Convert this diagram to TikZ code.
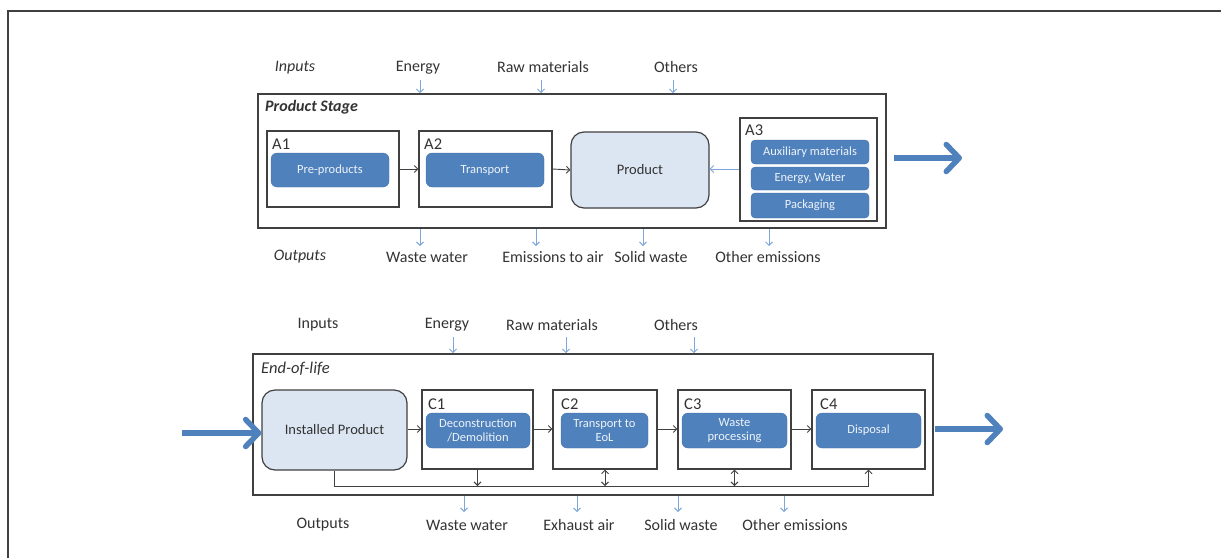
\documentclass[tikz,border=0pt]{standalone}
\usepackage{fontspec}
\setmainfont{Carlito}
\usetikzlibrary{arrows.meta,calc}
\definecolor{boxblue}{HTML}{4F81BD}
\definecolor{lightfill}{HTML}{DCE6F2}
\definecolor{arrowblue}{HTML}{7EA6DC}
\definecolor{txt}{HTML}{333333}
\definecolor{frame}{HTML}{404040}
\begin{document}
\begin{tikzpicture}[x=1pt,y=-1pt,
  lbl/.style={text=txt,font=\fontsize{16}{19}\selectfont,inner sep=0pt,yshift=-2pt},
  ilbl/.style={lbl,font=\fontsize{16}{19}\selectfont\itshape},
  stage/.style={draw=frame,line width=1.8pt,minimum width=#1,inner sep=0pt},
  mod/.style={draw=frame,line width=1.2pt,inner sep=0pt},
  bbox/.style={fill=boxblue,draw=boxblue!85!black,line width=0.3pt,rounded corners=6pt,text=white!90!boxblue,font=\fontsize{12.5}{14}\selectfont,align=center,inner sep=0pt},
  pbox/.style={fill=lightfill,draw=frame,line width=1.2pt,rounded corners=13pt,text=txt,font=\fontsize{14.5}{17}\selectfont,inner sep=0pt},
  code/.style={text=txt,font=\fontsize{16.5}{19}\selectfont,inner sep=0pt,anchor=west,yshift=-1pt},
  sarr/.style={draw=arrowblue,line width=0.9pt,-{Straight Barb[length=3.5pt,width=7pt]}},
  karr/.style={draw=frame,line width=0.9pt,-{Straight Barb[length=3.5pt,width=7pt]}},
  darr/.style={draw=frame,line width=0.9pt,{Straight Barb[length=3.5pt,width=7pt]}-{Straight Barb[length=3.5pt,width=7pt]}},
  bigarr/.style={draw=boxblue,line width=5.5pt,-{Straight Barb[length=13pt,width=27pt,round]}}
]
\useasboundingbox (0,0) rectangle (1221,558);
% outer frame (partial)
\draw[frame,line width=1.5pt] (8,558) -- (8,11) -- (1221,11);

% ===== Product stage =====
\node[stage=628pt,minimum height=134pt] (ps) at (572,161) {};
\node[code,font=\fontsize{16}{19}\selectfont\itshape\bfseries] (pstitle) at (265,106) {Product Stage};
\node[mod,minimum width=132pt,minimum height=76pt] (a1) at (333,169) {};
\node[mod,minimum width=133pt,minimum height=76pt] (a2) at (485.5,169) {};
\node[mod,minimum width=137pt,minimum height=103pt] (a3) at (808.5,169.5) {};
\node[code] (a1l) at (272,143) {A1};
\node[code] (a2l) at (424,143) {A2};
\node[code] (a3l) at (745,129) {A3};
\node[bbox,minimum width=118pt,minimum height=34pt] (pre) at (330,170) {Pre-products};
\node[bbox,minimum width=118pt,minimum height=34pt] (tra) at (485,170) {Transport};
\node[pbox,minimum width=138pt,minimum height=76pt] (prod) at (640,170) {Product};
\node[bbox,rounded corners=4pt,minimum width=118pt,minimum height=24pt] (aux) at (810,152) {Auxiliary materials};
\node[bbox,rounded corners=4pt,minimum width=118pt,minimum height=23pt] (enw) at (810,178.5) {Energy, Water};
\node[bbox,rounded corners=4pt,minimum width=118pt,minimum height=25pt] (pack) at (810,205.5) {Packaging};
\draw[karr] (a1.east) -- (a2.west);
\draw[karr] (a2.east) -- (prod.west);
\draw[sarr] (a3.west |- 0,169) coordinate (a3w) -- (prod.east |- a3w);
\coordinate (bigAs) at (894,158);
\coordinate (bigAe) at (962,158);
\draw[bigarr] (bigAs) -- (bigAe);

% inputs top
\node[ilbl] (in1) at (295,66) {Inputs};
\node[lbl] (en1) at (418,66) {Energy};
\node[lbl] (rm1) at (543,65) {Raw materials};
\node[lbl] (ot1) at (676,65) {Others};
\coordinate (en1a) at (420,80);
\coordinate (rm1a) at (541,80);
\coordinate (ot1a) at (673,80);
\draw[sarr] (en1a) -- (en1a |- ps.north);
\draw[sarr] (rm1a) -- (rm1a |- ps.north);
\draw[sarr] (ot1a) -- (ot1a |- ps.north);
% outputs top
\node[ilbl] (out1) at (300,255) {Outputs};
\node[lbl] (ww1) at (427,255) {Waste water};
\node[lbl] (ea1) at (553,255) {Emissions to air};
\node[lbl] (sw1) at (651,255) {Solid waste};
\node[lbl] (oe1) at (768,255) {Other emissions};
\coordinate (ww1a) at (420,246);
\coordinate (ea1a) at (536,246);
\coordinate (sw1a) at (643,246);
\coordinate (oe1a) at (769,246);
\draw[sarr] (ww1a |- ps.south) -- (ww1a);
\draw[sarr] (ea1a |- ps.south) -- (ea1a);
\draw[sarr] (sw1a |- ps.south) -- (sw1a);
\draw[sarr] (oe1a |- ps.south) -- (oe1a);

% ===== End of life =====
\node[stage=680pt,minimum height=141pt] (eol) at (593,424.5) {};
\node[code,font=\fontsize{16.5}{19}\selectfont\itshape] (eoltitle) at (261,368) {End-of-life};
\node[pbox,minimum width=145pt,minimum height=80pt] (inst) at (334.5,430) {Installed Product};
\node[mod,minimum width=111pt,minimum height=79pt] (c1) at (477.5,429.5) {};
\node[mod,minimum width=104pt,minimum height=79pt] (c2) at (605,429.5) {};
\node[mod,minimum width=113pt,minimum height=79pt] (c3) at (734.5,429.5) {};
\node[mod,minimum width=113pt,minimum height=79pt] (c4) at (868.5,429.5) {};
\node[code] (c1l) at (428,403) {C1};
\node[code] (c2l) at (561,403) {C2};
\node[code] (c3l) at (684,403) {C3};
\node[code] (c4l) at (820,403) {C4};
\node[bbox,minimum width=104pt,minimum height=35pt] (dec) at (478,430.5) {Deconstruction\\/Demolition};
\node[bbox,minimum width=87pt,minimum height=35pt] (tr2) at (604.5,430.5) {Transport to\\EoL};
\node[bbox,minimum width=105pt,minimum height=35pt] (wp) at (734.5,430.5) {Waste\\processing};
\node[bbox,minimum width=105pt,minimum height=35pt] (dis) at (868.5,430.5) {Disposal};
\coordinate (row) at (0,429);
\draw[karr] (inst.east |- row) -- (c1.west |- row);
\draw[karr] (c1.east |- row) -- (c2.west |- row);
\draw[karr] (c2.east |- row) -- (c3.west |- row);
\draw[karr] (c3.east |- row) -- (c4.west |- row);
\coordinate (bus) at (0,486);
\draw[draw=frame,line width=0.9pt] (inst.south) -- (inst.south |- bus) -- (c4.south |- bus);
\draw[karr] (c1.south) -- (c1.south |- bus);
\draw[darr] (c2.south) -- (c2.south |- bus);
\draw[darr] (c3.south) -- (c3.south |- bus);
\draw[karr] (c4.south |- bus) -- (c4.south);
\coordinate (bigBs) at (182,433);
\coordinate (bigCs) at (935,429);
\coordinate (bigCe) at (1003,429);
\draw[bigarr] (bigBs) -- (inst.west |- bigBs);
\draw[bigarr] (bigCs) -- (bigCe);

% inputs bottom
\node[lbl] (in2) at (318,323) {Inputs};
\node[lbl] (en2) at (447,323) {Energy};
\node[lbl] (rm2) at (552,323) {Raw materials};
\node[lbl] (ot2) at (676,323) {Others};
\coordinate (en2a) at (453,337);
\coordinate (rm2a) at (566,337);
\coordinate (ot2a) at (694,337);
\draw[sarr] (en2a) -- (en2a |- eol.north);
\draw[sarr] (rm2a) -- (rm2a |- eol.north);
\draw[sarr] (ot2a) -- (ot2a |- eol.north);
% outputs bottom
\node[lbl] (out2) at (323,523) {Outputs};
\node[lbl] (ww2) at (467,523) {Waste water};
\node[lbl] (ex2) at (579,523) {Exhaust air};
\node[lbl] (sw2) at (681,523) {Solid waste};
\node[lbl] (oe2) at (795,523) {Other emissions};
\coordinate (ww2a) at (464,512);
\coordinate (ex2a) at (577,512);
\coordinate (sw2a) at (678,512);
\coordinate (oe2a) at (784,512);
\draw[sarr] (ww2a |- eol.south) -- (ww2a);
\draw[sarr] (ex2a |- eol.south) -- (ex2a);
\draw[sarr] (sw2a |- eol.south) -- (sw2a);
\draw[sarr] (oe2a |- eol.south) -- (oe2a);
\end{tikzpicture}
\end{document}
